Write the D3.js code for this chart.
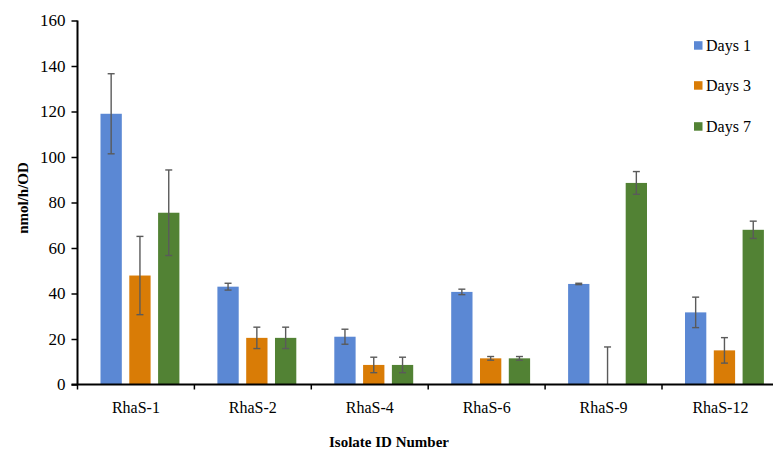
<!DOCTYPE html>
<html lang="en">
<head>
    <meta charset="UTF-8">
    <script src="https://d3js.org/d3.v7.min.js"></script>
    <title>Isolate activity</title>
    <style>
        body { margin: 0; background: #fff; }
    </style>
</head>
<body>
    <div id="graph-div"></div>
    <script>
        // data
        const isolates = ["RhaS-1", "RhaS-2", "RhaS-4", "RhaS-6", "RhaS-9", "RhaS-12"];
        const seriesNames = ["Days 1", "Days 3", "Days 7"];
        const day1 = [119, 43, 21, 40.7, 44.2, 31.7];
        const day3 = [47.9, 20.5, 8.6, 11.5, 0, 15];
        const day7 = [75.5, 20.5, 8.6, 11.5, 88.6, 68];
        const day1Err = [17.6, 1.5, 3.3, 1.2, 0.3, 6.7];
        const day3Err = [17.2, 4.7, 3.4, 0.8, 16.5, 5.6];
        const day7Err = [18.8, 4.7, 3.4, 0.8, 5, 3.8];
        const yTicks = [0, 20, 40, 60, 80, 100, 120, 140, 160];
        const colors = ["#5B88D4", "#D97C06", "#528234"];

        const font = "'Liberation Serif', serif";
        const w = 773, h = 452;
        const padLeft = 77.5, padTop = 20.5, axisY = 384.5;

        const values = [day1, day3, day7];
        const errors = [day1Err, day3Err, day7Err];
        const rows = [];
        isolates.forEach((iso, i) => {
            seriesNames.forEach((s, j) => {
                rows.push({iso: iso, s: s, j: j, v: values[j][i], e: errors[j][i]});
            });
        });

        const svg = d3.select("#graph-div").append("svg")
            .attr("width", w).attr("height", h)
            .style("font-family", font);

        const xScale = d3.scaleBand()
            .domain(isolates)
            .range([padLeft, padLeft + 6 * 116.9])
            .paddingInner(0).paddingOuter(0);

        const inner = d3.scaleBand()
            .domain(seriesNames)
            .range([23, 23 + 3 * 26.3])
            .paddingInner(0.26).paddingOuter(0);

        const yScale = d3.scaleLinear()
            .domain([0, 160])
            .range([axisY, padTop]);

        // bars
        svg.selectAll("rect.bar")
            .data(rows)
            .enter()
            .append("rect")
            .attr("class", "bar")
            .attr("x", d => xScale(d.iso) + inner(d.s))
            .attr("y", d => yScale(d.v))
            .attr("width", inner.bandwidth())
            .attr("height", d => yScale(0) - yScale(d.v))
            .attr("fill", d => colors[d.j]);

        // error bars
        const err = svg.selectAll("g.err")
            .data(rows)
            .enter()
            .append("g")
            .attr("class", "err")
            .attr("stroke", "#5a5a5a")
            .attr("stroke-width", 1.4);
        const cx = d => xScale(d.iso) + inner(d.s) + inner.bandwidth() / 2;
        err.append("line")
            .attr("x1", cx).attr("x2", cx)
            .attr("y1", d => yScale(Math.max(0, d.v - d.e)))
            .attr("y2", d => yScale(d.v + d.e));
        err.append("line")
            .attr("x1", d => cx(d) - 3.5).attr("x2", d => cx(d) + 3.5)
            .attr("y1", d => yScale(d.v + d.e)).attr("y2", d => yScale(d.v + d.e));
        err.filter(d => d.v - d.e > 0).append("line")
            .attr("x1", d => cx(d) - 3.5).attr("x2", d => cx(d) + 3.5)
            .attr("y1", d => yScale(d.v - d.e)).attr("y2", d => yScale(d.v - d.e));

        // axes
        const yAxis = d3.axisLeft(yScale).tickValues(yTicks).tickSize(6).tickPadding(6);
        const gy = svg.append("g")
            .attr("id", "y-axis")
            .attr("transform", "translate(" + padLeft + ",0)")
            .call(yAxis)
            .attr("font-family", null)
            .attr("font-size", null);
        gy.select(".domain").attr("stroke", "#000").attr("stroke-width", 2).attr("d", "M0," + padTop + "V" + axisY);
        gy.selectAll(".tick line").attr("stroke", "#000").attr("stroke-width", 1.5);
        gy.selectAll(".tick text")
            .attr("fill", "#000")
            .style("font-size", "17px")
            .style("font-family", font);

        const gx = svg.append("g")
            .attr("id", "x-axis")
            .attr("transform", "translate(0," + axisY + ")");
        gx.append("line")
            .attr("x1", padLeft - 6).attr("x2", w)
            .attr("stroke", "#000").attr("stroke-width", 2);
        gx.selectAll("line.tk")
            .data(isolates)
            .enter()
            .append("line")
            .attr("class", "tk")
            .attr("x1", d => xScale(d)).attr("x2", d => xScale(d))
            .attr("y1", 0).attr("y2", 5)
            .attr("stroke", "#000").attr("stroke-width", 1.5);
        gx.selectAll("text")
            .data(isolates)
            .enter()
            .append("text")
            .attr("x", d => xScale(d) + xScale.bandwidth() / 2)
            .attr("y", 28.5)
            .attr("text-anchor", "middle")
            .style("font-family", font)
            .style("font-size", "16px")
            .text(d => d);

        // axis titles
        svg.append("text")
            .attr("transform", "translate(28,198) rotate(-90)")
            .attr("text-anchor", "middle")
            .style("font-family", font)
            .style("font-size", "15px")
            .style("font-weight", "bold")
            .text("nmol/h/OD");

        svg.append("text")
            .attr("x", 389).attr("y", 447)
            .attr("text-anchor", "middle")
            .style("font-family", font)
            .style("font-size", "15px")
            .style("font-weight", "bold")
            .text("Isolate ID Number");

        // legend
        const legend = svg.selectAll("g.leg")
            .data(seriesNames)
            .enter()
            .append("g")
            .attr("class", "leg")
            .attr("transform", (d, i) => "translate(694," + [45.7, 85.7, 126.7][i] + ")");
        legend.append("rect")
            .attr("x", 0).attr("y", -4.5)
            .attr("width", 8.5).attr("height", 8.5)
            .attr("fill", (d, i) => colors[i]);
        legend.append("text")
            .attr("x", 12).attr("y", 5.5)
            .style("font-family", font)
            .style("font-size", "16px")
            .text(d => d);
    </script>
</body>
</html>
